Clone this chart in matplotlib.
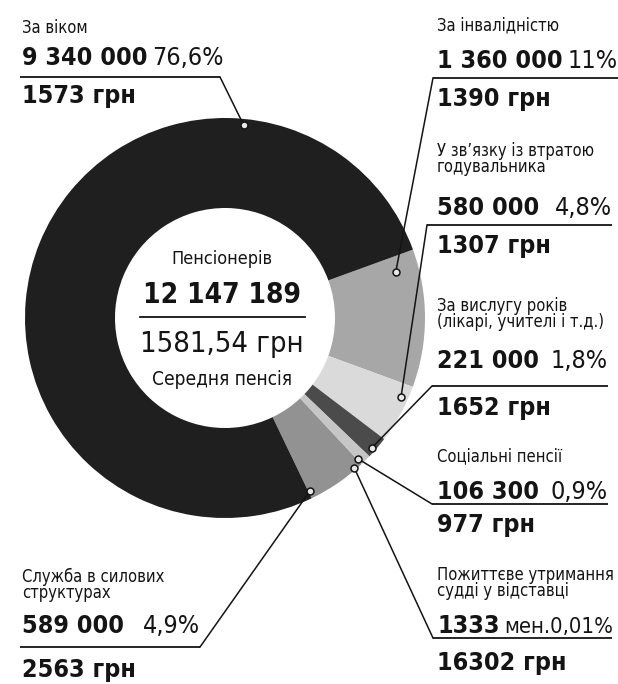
import matplotlib
matplotlib.use("Agg")
import numpy as np
import matplotlib.pyplot as plt

# ---------------- data (clockwise order starting at upper right) ----------------
categories = ['За інвалідністю',
              'У зв’язку із втратою\nгодувальника',
              'За вислугу років\n(лікарі, учителі і т.д.)',
              'Соціальні пенсії',
              'Пожиттєве утримання\nсудді у відставці',
              'Служба в силових\nструктурах',
              'За віком']
counts = [1360000, 580000, 221000, 106300, 1333, 589000, 9340000]
count_labels = ['1 360 000', '580 000', '221 000', '106 300', '1333', '589 000', '9 340 000']
share_labels = ['11%', '4,8%', '1,8%', '0,9%', 'мен.0,01%', '4,9%', '76,6%']
pensions = [1390, 1307, 1652, 977, 16302, 2563, 1573]
total_label = '12 147 189'
avg_label = '1581,54 грн'

# ---------------- style ----------------
colors = ['#a7a7a7', '#dadada', '#4b4b4b', '#c6c6c6', '#f0f0f0', '#929292', '#1f1f1f']
INK = '#141414'
W, H = 618, 684
CX, CY, R = 225, 318, 200          # donut centre / outer radius in pixels
HOLE = 110                         # inner radius in pixels
FAM = 'DejaVu Sans'

def pt(px):
    return px * 72.0 / 100.0

fig = plt.figure(figsize=(W / 100, H / 100), dpi=100)
fig.patch.set_facecolor('white')

# pie axes placed in pixel geometry
axp = fig.add_axes([(CX - R) / W, (H - CY - R) / H, 2 * R / W, 2 * R / H])
wedges, _ = axp.pie(counts, colors=colors, startangle=20, counterclock=False,
                    radius=1.0, wedgeprops=dict(width=1 - HOLE / R, linewidth=0))
axp.set_xlim(-1, 1)
axp.set_ylim(-1, 1)
axp.axis('off')

# overlay axes in pixel coordinates (y down)
ax = fig.add_axes([0, 0, 1, 1], facecolor='none')
ax.set_xlim(0, W)
ax.set_ylim(H, 0)
ax.axis('off')
renderer = fig.canvas.get_renderer()

# layout for each label
title_last_base = [30, 172, 327, 461, 596, 598, 33]   # baseline of the last title line
num_base = [68, 215, 368, 499, 633, 633, 65]
pen_base = [106, 253, 415, 532, 670, 677, 103]
uline_y = [78, 225, 386, 504, 638, 647, 77]
uline_x = [(433, 618), (427, 612), (432, 608), (432, 608), (433, 612), (20, 200), (20, 220)]
text_x = [437, 437, 437, 437, 437, 22, 22]
side = ['R', 'R', 'R', 'R', 'R', 'L', 'L']
dot_frac = [0.88, 0.76, 0.37, 0.1, 0.5, 0.02, 0.234]
dot_shift = [0, 0, 0, 0, -2.3, 0, 0]
dot_r = [0.885, 0.965, 0.98, 0.97, 0.99, 0.965, 0.97]
TITLE_PX = 16.5
NUM_PX = 25

for i, w in enumerate(wedges):
    th = np.deg2rad(w.theta1 + dot_frac[i] * (w.theta2 - w.theta1) + dot_shift[i])
    dx = CX + R * dot_r[i] * np.cos(th)
    dy = CY - R * dot_r[i] * np.sin(th)
    x0, x1 = uline_x[i]
    ex = x0 if side[i] == 'R' else x1
    ax.plot([x0, x1], [uline_y[i], uline_y[i]], color=INK, lw=1.3, solid_capstyle='butt')
    ax.plot([ex, dx], [uline_y[i], dy], color=INK, lw=1.1)
    ax.plot([dx], [dy], marker='o', ms=5, mfc='#e8e8e8', mec=INK, mew=1.1, zorder=5)

    ax.text(text_x[i], title_last_base[i], categories[i], fontsize=pt(TITLE_PX),
            family=FAM, stretch='condensed', color=INK, va='baseline', ha='left',
            multialignment='left', linespacing=0.86)
    tn = ax.text(text_x[i], num_base[i], count_labels[i], fontsize=pt(NUM_PX), fontweight='bold',
                 family=FAM, stretch='condensed', color=INK, va='baseline', ha='left')
    ts = ax.text(x1, num_base[i], share_labels[i], fontsize=pt(NUM_PX),
                 family=FAM, stretch='condensed', color=INK, va='baseline', ha='right')
    nb = tn.get_window_extent(renderer)
    sb = ts.get_window_extent(renderer)
    if sb.x0 < nb.x1 + 4:
        ts.set_ha('left')
        ts.set_x(nb.x1 + 5)
        size = NUM_PX
        while ts.get_window_extent(renderer).x1 > W - 3 and size > 14:
            size -= 0.5
            ts.set_fontsize(pt(size))
    ax.text(text_x[i], pen_base[i], f'{pensions[i]} грн', fontsize=pt(NUM_PX), fontweight='bold',
            family=FAM, stretch='condensed', color=INK, va='baseline', ha='left')

# centre text
ax.text(222, 264, 'Пенсіонерів', fontsize=pt(18), family=FAM, stretch='condensed',
        color=INK, va='baseline', ha='center')
ax.text(222, 303, total_label, fontsize=pt(28), fontweight='bold', family=FAM,
        stretch='condensed', color=INK, va='baseline', ha='center')
ax.plot([140, 305], [317, 317], color=INK, lw=1.3)
ax.text(222, 352, avg_label, fontsize=pt(29), family=FAM, stretch='condensed',
        color=INK, va='baseline', ha='center')
ax.text(222, 385, 'Середня пенсія', fontsize=pt(19), family=FAM, stretch='condensed',
        color=INK, va='baseline', ha='center')

fig.savefig('out.png', dpi=100, facecolor='white')
